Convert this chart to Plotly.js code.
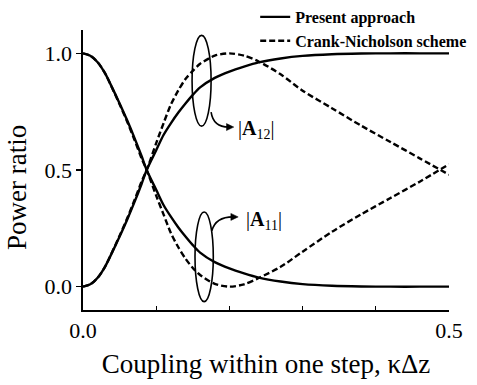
<!DOCTYPE html>
<html>
<head>
<meta charset="utf-8">
<script src="https://cdn.plot.ly/plotly-3.0.1.min.js"></script>
<style>
  html, body { margin: 0; padding: 0; background: #fff; }
  #chart { width: 477px; height: 385px; }
</style>
</head>
<body>
<div id="chart"></div>
<script>
// Coupling within one step (kappa * delta z)
const coupling = [0, 0.01, 0.02, 0.03, 0.04, 0.05, 0.06, 0.07, 0.08, 0.087,
                  0.10, 0.11, 0.12, 0.13, 0.14, 0.15, 0.16, 0.18, 0.20, 0.22,
                  0.24, 0.27, 0.30, 0.34, 0.38, 0.42, 0.46, 0.50];

// Present approach
const presentA11 = [1.00, 0.99, 0.962, 0.915, 0.852, 0.785, 0.715, 0.64, 0.56, 0.50,
                    0.415, 0.35, 0.30, 0.255, 0.215, 0.178, 0.146, 0.105, 0.078, 0.057,
                    0.039, 0.022, 0.011, 0.004, 0.001, 0.0, 0.0, 0.0];
const presentA12 = [0.00, 0.01, 0.038, 0.085, 0.148, 0.215, 0.285, 0.36, 0.44, 0.50,
                    0.585, 0.65, 0.70, 0.745, 0.785, 0.822, 0.854, 0.895, 0.922, 0.943,
                    0.961, 0.978, 0.989, 0.996, 0.999, 1.0, 1.0, 1.0];

// Crank-Nicholson scheme
const crankA11 = [1.00, 0.99, 0.962, 0.915, 0.85, 0.782, 0.71, 0.632, 0.55, 0.50,
                  0.39, 0.31, 0.23, 0.17, 0.12, 0.08, 0.05, 0.012, 0.0, 0.01,
                  0.037, 0.085, 0.15, 0.235, 0.31, 0.38, 0.45, 0.525];
const crankA12 = [0.00, 0.01, 0.038, 0.085, 0.15, 0.218, 0.29, 0.368, 0.45, 0.50,
                  0.615, 0.70, 0.78, 0.84, 0.89, 0.925, 0.955, 0.99, 1.0, 0.99,
                  0.965, 0.91, 0.84, 0.765, 0.69, 0.62, 0.55, 0.48];

const xTicks = [0, 0.1, 0.2, 0.3, 0.4, 0.5];
const xTickText = ['0.0', '', '', '', '', '0.5'];
const yTicks = [0, 0.5, 1.0];
const yTickText = ['0.0', '0.5', '1.0'];

const serif = 'Liberation Serif, Times New Roman, serif';
const solid = { color: '#000', width: 2.4, shape: 'spline', smoothing: 0.8 };
const dashed = { color: '#000', width: 2.4, dash: '6px,3px', shape: 'spline', smoothing: 0.8 };

const traces = [
  { x: coupling, y: presentA11, mode: 'lines', line: solid, name: 'Present approach', showlegend: true },
  { x: coupling, y: presentA12, mode: 'lines', line: solid, name: 'Present approach', showlegend: false },
  { x: coupling, y: crankA11, mode: 'lines', line: dashed, name: 'Crank-Nicholson scheme', showlegend: true },
  { x: coupling, y: crankA12, mode: 'lines', line: dashed, name: 'Crank-Nicholson scheme', showlegend: false }
];

const thin = { color: '#000', width: 1.6 };
const shapes = [
  // ellipses grouping the |A12| and |A11| curves
  { type: 'circle', xref: 'x', yref: 'y', x0: 0.149, x1: 0.175, y0: 0.688, y1: 1.077, line: thin },
  { type: 'circle', xref: 'x', yref: 'y', x0: 0.153, x1: 0.178, y0: -0.064, y1: 0.32, line: thin },
  // curved leaders to the labels
  { type: 'path', xref: 'x', yref: 'y', path: 'M0.175,0.748 Q0.178,0.684 0.199,0.684', line: thin },
  { type: 'path', xref: 'x', yref: 'y', path: 'M0.206,0.684 L0.196,0.699 L0.196,0.669 Z',
    fillcolor: '#000', line: { color: '#000', width: 0.5 } },
  { type: 'path', xref: 'x', yref: 'y', path: 'M0.176,0.239 Q0.181,0.299 0.205,0.299', line: thin },
  { type: 'path', xref: 'x', yref: 'y', path: 'M0.212,0.299 L0.202,0.314 L0.202,0.284 Z',
    fillcolor: '#000', line: { color: '#000', width: 0.5 } }
];

const annotations = [
  { xref: 'x', yref: 'y', x: 0.209, y: 0.672, xanchor: 'left', yanchor: 'middle', showarrow: false,
    text: '|<b>A</b><sub>12</sub>|', font: { family: serif, size: 20, color: '#000' } },
  { xref: 'x', yref: 'y', x: 0.220, y: 0.283, xanchor: 'left', yanchor: 'middle', showarrow: false,
    text: '|<b>A</b><sub>11</sub>|', font: { family: serif, size: 20, color: '#000' } },
  { xref: 'paper', yref: 'paper', x: -0.18, y: 0.436, xanchor: 'center', yanchor: 'middle',
    showarrow: false, textangle: -90, text: 'Power ratio',
    font: { family: serif, size: 27, color: '#000' } }
];

const layout = {
  width: 477, height: 385,
  margin: { l: 83, r: 28, t: 30, b: 75, autoexpand: false },
  paper_bgcolor: '#fff', plot_bgcolor: '#fff',
  font: { family: serif, color: '#000' },
  showlegend: true,
  legend: {
    xref: 'container', yref: 'container', x: 0.535, y: 1.006, xanchor: 'left', yanchor: 'top',
    bgcolor: 'rgba(0,0,0,0)', borderwidth: 0,
    font: { family: serif, size: 16, weight: 'bold', color: '#000' }
  },
  xaxis: {
    range: [0, 0.5], showgrid: false, zeroline: false,
    showline: true, linecolor: '#000', linewidth: 1.6,
    ticks: 'inside', ticklen: 4, tickwidth: 1.2, tickcolor: '#000',
    tickvals: xTicks, ticktext: xTickText,
    tickfont: { family: serif, size: 22, color: '#000' },
    title: { text: 'Coupling within one step, κΔz', standoff: 12,
             font: { family: serif, size: 27, color: '#000' } }
  },
  yaxis: {
    range: [-0.1, 1.1], showgrid: false, zeroline: false,
    showline: true, linecolor: '#000', linewidth: 1.6,
    ticks: 'outside', ticklen: 5, tickwidth: 1.2, tickcolor: '#000',
    tickvals: yTicks, ticktext: yTickText,
    tickfont: { family: serif, size: 22, color: '#000' }
  },
  shapes: shapes,
  annotations: annotations
};

Plotly.newPlot('chart', traces, layout, { displayModeBar: false, staticPlot: true });
</script>
</body>
</html>
